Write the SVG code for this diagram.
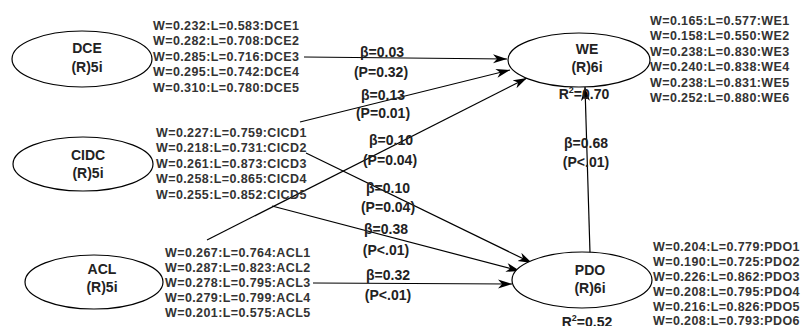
<svg xmlns="http://www.w3.org/2000/svg" width="801" height="326" viewBox="0 0 801 326">
<defs>
<marker id="arr" markerUnits="userSpaceOnUse" markerWidth="15" markerHeight="10" refX="14" refY="4.5" orient="auto">
<path d="M0,0 L14,4.5 L0,9 L4,4.5 z" fill="#000"/>
</marker>
<style>
.ell{fill:#fff;stroke:#000;stroke-width:1.2}
.nt{font-family:"Liberation Sans",Arial,sans-serif;font-weight:bold;font-size:14px;fill:#222;text-anchor:middle}
.ind{font-family:"Liberation Sans",Arial,sans-serif;font-weight:bold;font-size:12.5px;fill:#333;letter-spacing:0.4px}
.lab{font-family:"Liberation Sans",Arial,sans-serif;font-weight:bold;font-size:14px;fill:#222;text-anchor:middle}
.con{stroke:#000;stroke-width:1.2;fill:none;marker-end:url(#arr)}
</style>
</defs>
<rect width="801" height="326" fill="#fff"/>
<g id="connectors">
<line class="con" x1="304" y1="57" x2="507" y2="59"/>
<line class="con" x1="300" y1="122" x2="510" y2="70"/>
<line class="con" x1="207" y1="240" x2="527" y2="78"/>
<line class="con" x1="306" y1="153" x2="532" y2="263"/>
<line class="con" x1="272" y1="206" x2="520" y2="271"/>
<line class="con" x1="313" y1="283" x2="512" y2="284"/>
<line class="con" x1="590" y1="253" x2="585" y2="87"/>
<text class="lab" x="382" y="57">β=0.03</text>
<text class="lab" x="381" y="77">(P=0.32)</text>
<text class="lab" x="383" y="100">β=0.13</text>
<text class="lab" x="383" y="118">(P=0.01)</text>
<text class="lab" x="391" y="145">β=0.10</text>
<text class="lab" x="390" y="165">(P=0.04)</text>
<text class="lab" x="388" y="193">β=0.10</text>
<text class="lab" x="388" y="212">(P=0.04)</text>
<text class="lab" x="386" y="234">β=0.38</text>
<text class="lab" x="386" y="255">(P&lt;.01)</text>
<text class="lab" x="388" y="280">β=0.32</text>
<text class="lab" x="388" y="300">(P&lt;.01)</text>
<text class="lab" x="586" y="148">β=0.68</text>
<text class="lab" x="586" y="167">(P&lt;.01)</text>
</g>
<g id="DCE">
<ellipse class="ell" cx="82" cy="59" rx="70" ry="28"/>
<text class="nt" x="87" y="53">DCE</text>
<text class="nt" x="87" y="72">(R)5i</text>
<text class="ind" x="153" y="29.5">W=0.232:L=0.583:DCE1</text>
<text class="ind" x="153" y="45">W=0.282:L=0.708:DCE2</text>
<text class="ind" x="153" y="60.5">W=0.285:L=0.716:DCE3</text>
<text class="ind" x="153" y="76">W=0.295:L=0.742:DCE4</text>
<text class="ind" x="153" y="91.5">W=0.310:L=0.780:DCE5</text>
</g>
<g id="CIDC">
<ellipse class="ell" cx="83" cy="164" rx="70" ry="27"/>
<text class="nt" x="88" y="160">CIDC</text>
<text class="nt" x="88" y="178">(R)5i</text>
<text class="ind" x="156" y="136.5">W=0.227:L=0.759:CICD1</text>
<text class="ind" x="156" y="152">W=0.218:L=0.731:CICD2</text>
<text class="ind" x="156" y="167.5">W=0.261:L=0.873:CICD3</text>
<text class="ind" x="156" y="183">W=0.258:L=0.865:CICD4</text>
<text class="ind" x="156" y="198.5">W=0.255:L=0.852:CICD5</text>
</g>
<g id="ACL">
<ellipse class="ell" cx="94" cy="282" rx="69" ry="27"/>
<text class="nt" x="102" y="274">ACL</text>
<text class="nt" x="102" y="292">(R)5i</text>
<text class="ind" x="165" y="256.5">W=0.267:L=0.764:ACL1</text>
<text class="ind" x="165" y="271.5">W=0.287:L=0.823:ACL2</text>
<text class="ind" x="165" y="286.5">W=0.278:L=0.795:ACL3</text>
<text class="ind" x="165" y="301.5">W=0.279:L=0.799:ACL4</text>
<text class="ind" x="165" y="316.5">W=0.201:L=0.575:ACL5</text>
</g>
<g id="WE">
<ellipse class="ell" cx="579" cy="60" rx="71" ry="27"/>
<text class="nt" x="587" y="54">WE</text>
<text class="nt" x="587" y="72">(R)6i</text>
<text class="nt" x="584" y="99">R<tspan font-size="9" dy="-6">2</tspan><tspan dy="6">=0.70</tspan></text>
<text class="ind" x="650" y="24.5">W=0.165:L=0.577:WE1</text>
<text class="ind" x="650" y="40">W=0.158:L=0.550:WE2</text>
<text class="ind" x="650" y="55.5">W=0.238:L=0.830:WE3</text>
<text class="ind" x="650" y="71">W=0.240:L=0.838:WE4</text>
<text class="ind" x="650" y="86.5">W=0.238:L=0.831:WE5</text>
<text class="ind" x="650" y="102">W=0.252:L=0.880:WE6</text>
</g>
<g id="PDO">
<ellipse class="ell" cx="582" cy="280" rx="70" ry="28"/>
<text class="nt" x="590" y="275">PDO</text>
<text class="nt" x="590" y="293">(R)6i</text>
<text class="nt" x="587" y="327">R<tspan font-size="9" dy="-6">2</tspan><tspan dy="6">=0.52</tspan></text>
<text class="ind" x="653" y="251">W=0.204:L=0.779:PDO1</text>
<text class="ind" x="653" y="266">W=0.190:L=0.725:PDO2</text>
<text class="ind" x="653" y="281">W=0.226:L=0.862:PDO3</text>
<text class="ind" x="653" y="296">W=0.208:L=0.795:PDO4</text>
<text class="ind" x="653" y="311">W=0.216:L=0.826:PDO5</text>
<text class="ind" x="653" y="325">W=0.208:L=0.793:PDO6</text>
</g>
</svg>
